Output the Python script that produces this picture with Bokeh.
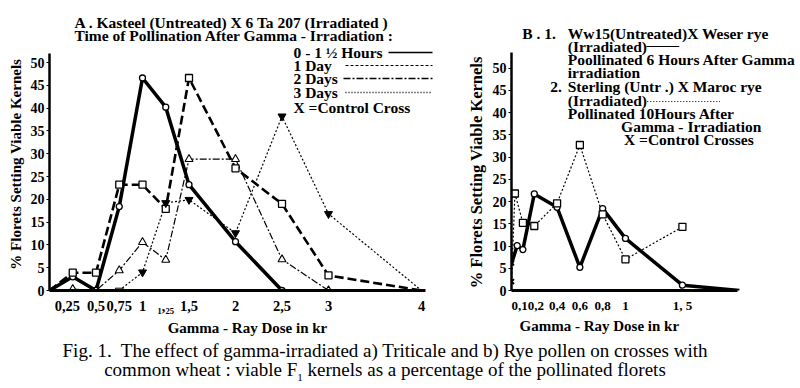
from bokeh.plotting import figure
from bokeh.models import FixedTicker, Div, Title
from bokeh.layouts import column, row
from bokeh.core.properties import value
from bokeh.embed import file_html
from bokeh.resources import INLINE

# ---------------- data ----------------
# Panel A: Kasteel x 6 Ta 207
a_dose_h = [0, 0.25, 0.5, 0.75, 1, 1.25, 1.5, 2, 2.5]
a_pct_h = [0, 3.0, 0, 18.4, 46.6, 40.2, 23.2, 10.7, 0]
a_dose_1d = [0, 0.25, 0.5, 0.75, 1, 1.25, 1.5, 2, 2.5, 3, 4]
a_pct_1d = [0, 3.9, 3.9, 23.2, 23.2, 17.9, 46.6, 26.8, 19.0, 3.3, 0]
a_dose_2d = [0.25, 0.5, 0.75, 1, 1.25, 1.5, 2, 2.5, 3]
a_pct_2d = [0.3, 0, 4.4, 10.6, 6.7, 28.8, 28.8, 6.8, 0]
a_dose_3d = [0.75, 1, 1.25, 1.5, 2, 2.5, 3, 4]
a_pct_3d = [0, 4.0, 19.2, 19.9, 12.6, 38.2, 16.8, 0]
a_xticks = [0.25, 0.5, 0.75, 1, 1.25, 1.5, 2, 2.5, 3, 4]
a_xlabels = ["0,25\u00a0\u00a0\u00a0", "0,5", "0,75", "1", "\u2081,\u2082\u2085",
             "1,5", "2", "2,5", "3", "4"]

# Panel B: rye crosses
b_dose_1 = [0, 0.05, 0.1, 0.2, 0.4, 0.6, 0.8, 1.0, 1.5, 2.0]
b_pct_1 = [6.0, 10.1, 9.2, 21.7, 18.7, 5.2, 18.4, 11.7, 1.2, 0]
b_dose_2 = [0, 0.03, 0.1, 0.2, 0.4, 0.6, 0.8, 1.0, 1.5]
b_pct_2 = [2.0, 21.8, 15.2, 14.5, 19.6, 32.7, 17.1, 7.0, 14.3]
b_ctrl_dose = [0, 0]
b_ctrl_pct = [2.0, 6.2]
b_xticks = [0.1, 0.2, 0.4, 0.6, 0.8, 1, 1.5]
b_xlabels = ["0,1\u00a0\u00a0", "\u00a00,2", "0,4", "0,6", "0,8", "1", "1, 5"]

y_ticks = [0, 5, 10, 15, 20, 25, 30, 35, 40, 45, 50]

FONT = "Liberation Serif"
FRAME_H = 290
BOTTOM = 52
H = FRAME_H + BOTTOM
NB = "\u00a0"
Y_LABEL = "%  Florets Setting Viable Kernels"
X_LABEL = "Gamma - Ray Dose in kr"


def style_axes(p, xb, yb, xticks, xlabels):
    for ax in (p.xaxis[0], p.yaxis[0]):
        ax.axis_line_color = "black"
        ax.major_tick_line_color = "black"
        ax.minor_tick_line_color = None
        ax.major_label_text_font = FONT
        ax.major_label_text_font_style = "bold"
        ax.major_label_text_color = "black"
        ax.axis_label_text_font = FONT
        ax.axis_label_text_font_style = "bold"
        ax.axis_label_text_font_size = "15px"
        ax.axis_label_text_color = "black"
    xa, ya = p.xaxis[0], p.yaxis[0]
    xa.bounds = xb
    ya.bounds = yb
    xa.axis_line_width = 3
    ya.axis_line_width = 2.5
    xa.ticker = FixedTicker(ticks=xticks)
    xa.major_label_overrides = dict(zip(xticks, xlabels))
    xa.major_tick_out = 0
    xa.major_tick_in = 0
    xa.major_label_standoff = 7
    xa.major_label_text_font_size = "14.5px"
    xa.axis_label = X_LABEL
    xa.axis_label_standoff = 3
    ya.ticker = FixedTicker(ticks=y_ticks)
    ya.major_tick_out = 3
    ya.major_tick_in = 0
    ya.major_label_standoff = 2
    ya.major_label_text_font_size = "14px"
    ya.axis_label_standoff = 4
    p.grid.visible = False
    p.outline_line_color = None
    p.background_fill_color = "white"
    p.border_fill_color = "white"


def put_text(p, xs, ys, texts, size="15.5px", style="bold"):
    p.text(x=xs, y=ys, text=texts, text_font=value(FONT), text_font_size=size,
           text_font_style=style, text_align="left", text_baseline="middle",
           text_color="black")


# ---------------- panel A ----------------
A_X0, A_SX = 49, 93.0      # page px of dose 0 and px per kr
A_Y0, A_SY = 290, 4.56     # page px of 0 % and px per %
A_W = 463
A_FRAME_W = 396
ax_ = lambda px: (px - A_X0) / A_SX
ay_ = lambda py: (A_Y0 - py) / A_SY

p1 = figure(width=A_W, height=H, x_range=(0, A_FRAME_W / A_SX), y_range=(0, FRAME_H / A_SY),
            min_border_left=A_X0, min_border_right=A_W - A_X0 - A_FRAME_W,
            min_border_top=0, min_border_bottom=BOTTOM,
            output_backend="svg", toolbar_location=None)
style_axes(p1, (0, 4.04), (0, 52), a_xticks, a_xlabels)
p1.yaxis[0].axis_label = Y_LABEL + NB * 9

p1.line(a_dose_3d, a_pct_3d, line_color="black", line_width=1.2, line_dash="2 2")
p1.line(a_dose_2d, a_pct_2d, line_color="black", line_width=1.2, line_dash="7 2 2 2")
p1.line(a_dose_1d, a_pct_1d, line_color="black", line_width=2.6, line_dash="9 4")
p1.line(a_dose_h, a_pct_h, line_color="black", line_width=3.5)
p1.scatter(a_dose_h[1:], a_pct_h[1:], marker="circle", size=6, fill_color="white",
           line_color="black", line_width=1.3)
p1.scatter(a_dose_1d[1:-1], a_pct_1d[1:-1], marker="square", size=7, fill_color="white",
           line_color="black", line_width=1.3)
p1.scatter(a_dose_2d, a_pct_2d, marker="triangle", size=8, fill_color="white",
           line_color="black", line_width=1.1)
p1.scatter(a_dose_3d[1:-1], a_pct_3d[1:-1], marker="inverted_triangle", size=8,
           fill_color="black", line_color="black")
p1.scatter(a_dose_3d[:1], a_pct_3d[:1], marker="inverted_triangle", size=8,
           fill_color="white", line_color="black")

put_text(p1, [ax_(74), ax_(74)], [ay_(22), ay_(35)],
         ["A .  Kasteel (Untreated) X  6 Ta 207 (Irradiated )",
          "Time of  Pollination After Gamma - Irradiation :"])
leg_y = [52, 65, 78, 92, 107]
put_text(p1, [ax_(293)] * 5, [ay_(v) for v in leg_y],
         ["0 - 1 \u00bd Hours", "1 Day", "2 Days", "3 Days", "X =Control  Cross"])
leg_styles = [(388, 432, 1.6, "solid"), (345, 432, 1.0, "3 2"),
              (343, 433, 1.6, "7 2 2 2"), (345, 430, 1.4, "1 2")]
for (x0, x1, w, d), yy in zip(leg_styles, leg_y[:4]):
    p1.line([ax_(x0), ax_(x1)], [ay_(yy), ay_(yy)], line_color="black", line_width=w, line_dash=d)

# ---------------- panel B ----------------
B_X0, B_SX = 502, 117.5
B_Y0, B_SY = 290, 4.45
B_W = 800 - A_W
B_LEFT = B_X0 - A_W
B_FRAME_W = B_W - B_LEFT
bx_ = lambda px: (px - B_X0) / B_SX
by_ = lambda py: (B_Y0 - py) / B_SY

p2 = figure(width=B_W, height=H, x_range=(0, B_FRAME_W / B_SX), y_range=(0, FRAME_H / B_SY),
            min_border_left=B_LEFT, min_border_right=0,
            min_border_top=0, min_border_bottom=BOTTOM,
            output_backend="svg", toolbar_location=None)
style_axes(p2, (0, 1.98), (0, 53.4), b_xticks, b_xlabels)
p2.xaxis[0].major_label_text_font_size = "13px"
p2.xaxis[0].axis_label = None
p2.yaxis[0].axis_label = Y_LABEL + NB * 12
p2.yaxis[0].axis_label_text_font_size = "16.5px"
p2.add_layout(Title(text=X_LABEL, align="left", offset=8, text_font=FONT,
                    text_font_size="15px", text_font_style="bold", text_color="black",
                    standoff=0), "below")

p2.line(b_dose_2, b_pct_2, line_color="black", line_width=1.2, line_dash="2 2")
p2.line(b_dose_1, b_pct_1, line_color="black", line_width=3.5)
p2.scatter(b_dose_1[1:-1], b_pct_1[1:-1], marker="circle", size=6, fill_color="white",
           line_color="black", line_width=1.3)
p2.scatter(b_dose_2[1:], b_pct_2[1:], marker="square", size=7, fill_color="white",
           line_color="black", line_width=1.3)
p2.scatter(b_ctrl_dose, b_ctrl_pct, marker="x", size=7, line_color="black", line_width=2)

b_lines = [("B . 1.", 513, 33),
           ("Ww15(Untreated)X  Weser rye", 560, 33),
           ("(Irradiated)", 560, 46),
           ("Poollinated  6 Hours After Gamma", 560, 59),
           ("irradiation", 560, 72),
           ("2.", 542, 86),
           ("Sterling (Untr .) X  Maroc rye", 560, 86),
           ("(Irradiated)", 560, 100),
           ("Pollinated 10Hours After", 560, 113),
           ("Gamma - Irradiation", 615, 126),
           ("X =Control  Crosses", 618, 139)]
put_text(p2, [bx_(t[1]) for t in b_lines], [by_(t[2]) for t in b_lines],
         [t[0] for t in b_lines])
p2.line([bx_(641), bx_(675)], [by_(46), by_(46)], line_color="black", line_width=1.2)
p2.line([bx_(642), bx_(717)], [by_(101), by_(101)], line_color="black", line_width=1.2,
        line_dash="1 2")

caption = Div(text=("Fig. 1.&nbsp; The effect of gamma-irradiated a) Triticale and b) Rye pollen "
                    "on crosses with<br>common wheat : viable F<sub style='font-size:11px;"
                    "line-height:0'>1</sub> kernels as a percentage of the pollinated florets"),
              width=760, height=388 - H,
              styles={"font-family": "Liberation Serif", "font-size": "19px",
                      "line-height": "19px", "text-align": "center", "color": "black",
                      "position": "relative", "top": "-6px"})

layout = column(row(p1, p2), caption)
open("out.html", "w").write(file_html(layout, INLINE))
